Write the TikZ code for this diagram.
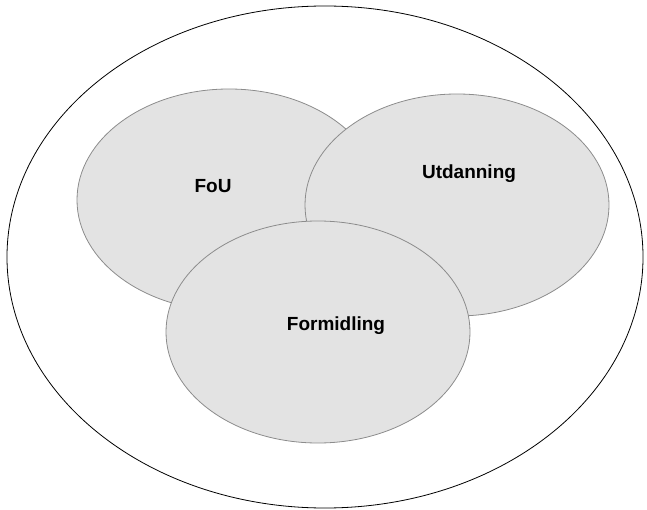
\documentclass[tikz,border=0pt]{standalone}
\usepackage{fontspec}
\setmainfont{Liberation Sans}
\usepackage{tikz}

\begin{document}
\begin{tikzpicture}[x=1pt, y=-1pt,
    area/.style={fill=black!11, draw=black!45, line width=0.8pt},
    label/.style={font=\bfseries\fontsize{19}{22}\selectfont}]
    \useasboundingbox (0,0) rectangle (647,510);
    \draw[black, line width=0.8pt] (325,257) ellipse (318pt and 251pt);
    \filldraw[area] (229,200) ellipse (152pt and 111pt);
    \filldraw[area] (457,205) ellipse (152pt and 111pt);
    \filldraw[area] (318,332) ellipse (152pt and 111pt);
    \node[label] (fou) at (213,186) {FoU};
    \node[label] (utdanning) at (469,174) {Utdanning};
    \node[label] (formidling) at (336,326) {Formidling};
  \end{tikzpicture}
\end{document}
